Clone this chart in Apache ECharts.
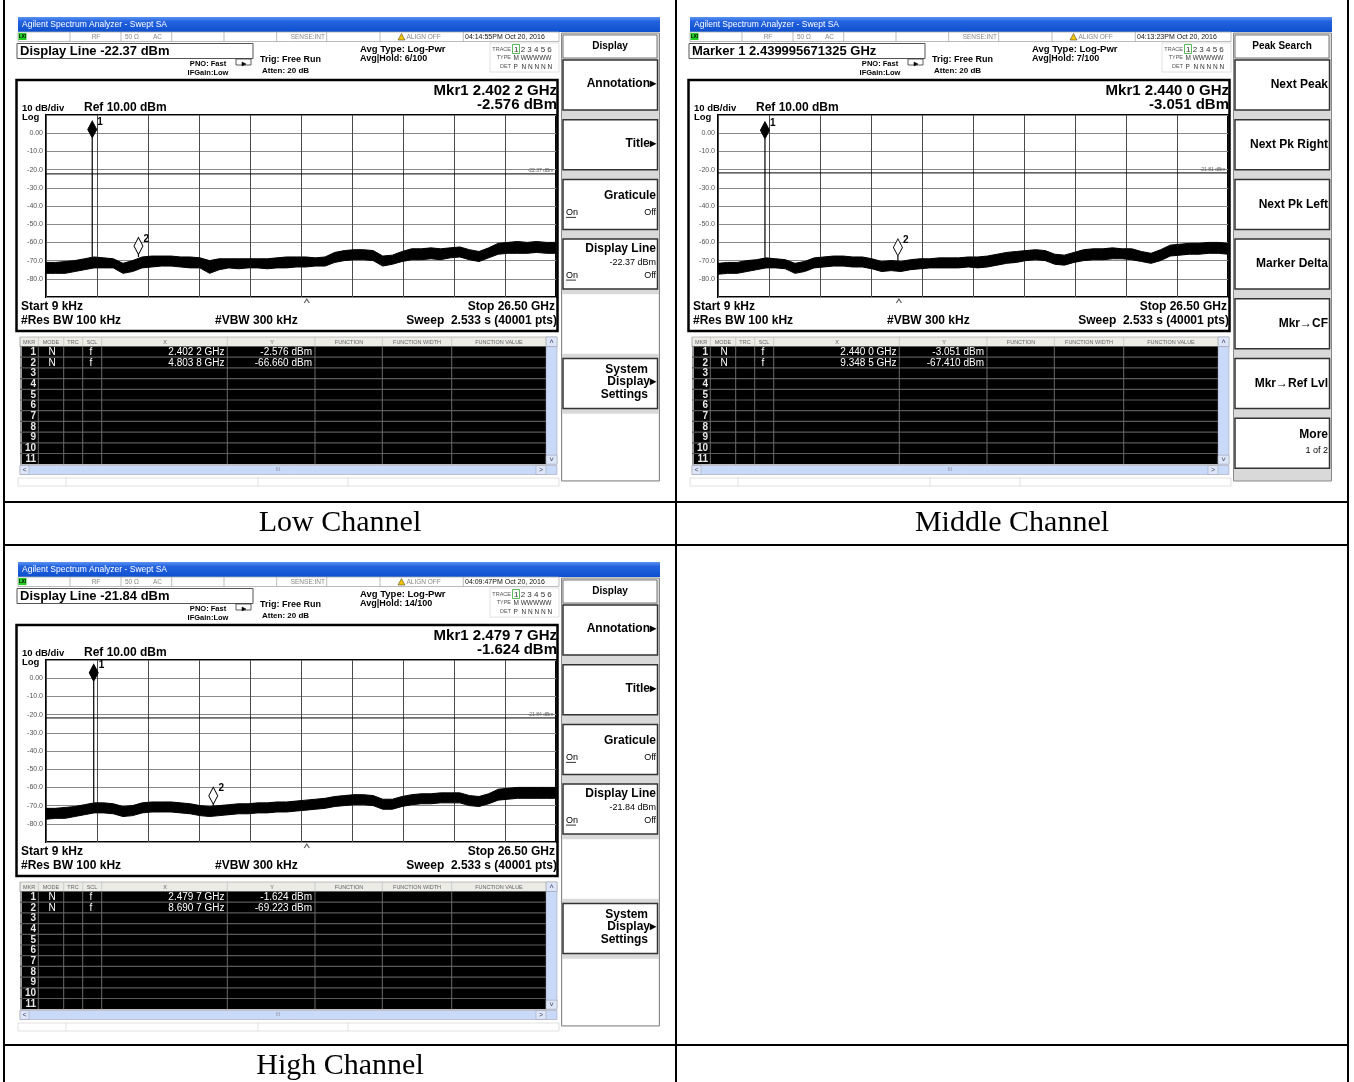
<!DOCTYPE html>
<html><head><meta charset="utf-8">
<style>html,body{margin:0;padding:0;background:#fff;}#c{width:1354px;height:1082px;}</style>
<script src="https://cdn.jsdelivr.net/npm/echarts@6/dist/echarts.min.js"></script>
</head><body><div id="c"></div>
<script>
// ---------------- DATA ----------------
const FREQ_GHZ = [0,0.5,1,1.5,2,2.5,3,3.5,4,4.5,5,5.5,6,6.5,7,7.5,8,8.5,9,9.5,10,10.5,11,11.5,12,12.5,13,13.5,14,14.5,15,15.5,16,16.5,17,17.5,18,18.5,19,19.5,20,20.5,21,21.5,22,22.5,23,23.5,24,24.5,25,25.5,26,26.5];
const Y_TICKS = [10,0,-10,-20,-30,-40,-50,-60,-70,-80,-90];

const LOW_UPPER = [-71,-71,-70.5,-70,-69,-68,-68.5,-69,-71.5,-70,-68,-67.5,-67.5,-67.5,-68,-68,-68.5,-70,-69,-69,-69,-69,-69,-69,-68.5,-68,-68,-68,-68.5,-68,-65.5,-64.5,-64,-64,-64.5,-67.5,-67,-65,-63.5,-63.5,-63,-63.5,-63,-62.5,-64,-65,-63,-60.5,-60,-59.5,-60,-59.5,-60,-60];
const LOW_LOWER = [-77,-77,-77,-76,-75,-74,-74,-74,-77,-76,-74,-73.5,-73,-73,-73.5,-74,-74,-77,-75,-74,-74.5,-74,-74,-74.5,-74,-74,-73.5,-73.5,-73,-73,-71,-70,-69.5,-69.5,-70,-73,-72,-70.5,-69.5,-69.5,-69,-69.5,-68.5,-68,-69.5,-70.5,-68.5,-66.5,-66,-66,-66,-65.5,-66,-66];
const MID_UPPER = [-71.5,-71,-71,-70,-69.5,-68.5,-69,-69.5,-71.5,-70.5,-68.5,-68,-67.5,-67.5,-68,-68,-69,-70.5,-70,-70.5,-69.5,-69,-69,-68.5,-68.5,-68.5,-68,-68,-67.5,-66.5,-65.5,-65,-64.5,-64,-64.5,-66.5,-67,-65.5,-64,-63.5,-63.5,-63,-63.5,-63.5,-65,-66,-64,-61.5,-61,-60.5,-60.5,-60,-60,-60.5];
const MID_LOWER = [-77.5,-77,-77,-76,-75,-74,-74,-74.5,-77,-76,-74,-73.5,-73,-73,-73.5,-73.5,-74.5,-76,-75.5,-76,-75,-74.5,-74,-74,-74,-74,-73.5,-74,-73.5,-72.5,-71.5,-71,-70,-69.5,-70,-72,-72.5,-71,-70,-69.5,-69.5,-69,-69,-69.5,-70.5,-71.5,-70,-67.5,-67,-66.5,-66.5,-66,-66,-66.5];
const HIGH_UPPER = [-71.5,-71.5,-71,-70.5,-69.5,-68.5,-68.5,-69,-70.5,-70,-68.5,-68,-68,-68,-68.5,-69,-70,-70.5,-70,-69.5,-69,-69,-68.5,-68.5,-68,-68,-67.5,-67,-66.5,-66,-65,-64.5,-64,-64,-64.5,-66.5,-66.5,-65,-64,-63.5,-63.5,-63,-63,-63,-64.5,-65,-63.5,-61,-60.5,-60,-60,-60,-60,-60];
const HIGH_LOWER = [-77.5,-77,-77,-76,-75,-74,-74,-74.5,-76,-75.5,-74,-73.5,-73.5,-73.5,-74,-74.5,-75.5,-76,-75.5,-75,-74.5,-74.5,-74,-74,-73.5,-73.5,-73,-72.5,-72,-71.5,-70.5,-70,-69.5,-69.5,-70,-72,-72,-70.5,-69.5,-69,-69,-68.5,-68.5,-68.5,-70,-70.5,-69,-67,-66.5,-66,-66,-66,-66,-66];

// markers: [freq GHz, level dBm]
const LOW_MARKERS = [[2.4022,-2.576],[4.8038,-66.660]];
const MID_MARKERS = [[2.4400,-3.051],[9.3485,-67.410]];
const HIGH_MARKERS = [[2.4797,-1.624],[8.6907,-69.223]];
const LOW_MARKER_TEXT = [['2.402 2 GHz','-2.576 dBm'],['4.803 8 GHz','-66.660 dBm']];
const MID_MARKER_TEXT = [['2.440 0 GHz','-3.051 dBm'],['9.348 5 GHz','-67.410 dBm']];
const HIGH_MARKER_TEXT = [['2.479 7 GHz','-1.624 dBm'],['8.690 7 GHz','-69.223 dBm']];
const DISPLAY_LINES = [-22.37, -21.81, -21.84];
const CARET_GHZ = [13.55, 9.40, 13.55];
const CAPTIONS = ['Low Channel','Middle Channel','High Channel'];

// ---------------- HELPERS ----------------
const FONT = '"Liberation Sans", Arial, Helvetica, sans-serif';
const SERIF = '"Liberation Serif", "Times New Roman", serif';
const els = [];
function T(x,y,text,size,o){o=o||{};els.push({type:'text',x:x,y:y,silent:true,z:100,style:{text:text,font:(o.w||'normal')+' '+size+'px '+(o.f||FONT),fill:o.c||'#000',align:o.a||'left',verticalAlign:'middle'}});}
function R(x,y,w,h,fill,stroke,lw,z){els.push({type:'rect',silent:true,z:z||90,shape:{x:x,y:y,width:w,height:h},style:{fill:fill||'none',stroke:stroke||null,lineWidth:lw||0}});}
function L(x1,y1,x2,y2,stroke,lw){els.push({type:'line',silent:true,z:95,shape:{x1:x1,y1:y1,x2:x2,y2:y2},style:{stroke:stroke,lineWidth:lw||1}});}
function P(points,fill,stroke,lw){els.push({type:'polygon',silent:true,z:96,shape:{points:points},style:{fill:fill,stroke:stroke,lineWidth:lw||0.5}});}

function screen(ox, oy, s){
  // title bar
  els.push({type:'rect',silent:true,z:90,shape:{x:ox,y:oy,width:642,height:15},style:{fill:new echarts.graphic.LinearGradient(0,0,0,1,[{offset:0,color:'#5a93f2'},{offset:0.3,color:'#2563de'},{offset:1,color:'#0c4fcf'}])}});
  T(ox+4, oy+8, 'Agilent Spectrum Analyzer - Swept SA', 8.5, {c:'#fff'});
  // status bar
  R(ox, oy+15, 541, 9.5, '#fff', '#aaa', 0.8);
  [52,103,153.7,206,258.7,308.7,362,445.3].forEach(function(x){L(ox+x,oy+15,ox+x,oy+24.5,'#aaa',0.8);});
  R(ox+0.5, oy+16, 8, 7, '#22cc22');
  T(ox+1, oy+19.7, 'LXI', 4.5, {w:'bold'});
  T(ox+78, oy+20, 'RF', 6.5, {c:'#888',a:'center'});
  T(ox+107, oy+20, '50 \u03A9', 6.5, {c:'#888'});
  T(ox+135, oy+20, 'AC', 6.5, {c:'#888'});
  T(ox+307, oy+20, 'SENSE:INT', 6.5, {c:'#888',a:'right'});
  P([[ox+380,oy+23],[ox+383.5,oy+16.5],[ox+387,oy+23]], '#f2c400', '#333', 0.5);
  T(ox+388.5, oy+20, 'ALIGN OFF', 6.5, {c:'#888'});
  T(ox+447, oy+20, s.time, 7, {c:'#111'});
  // header box
  R(ox-1, oy+26.5, 236, 15, '#fff', '#555', 1);
  T(ox+2, oy+34.5, s.header, 13, {w:'bold'});
  T(ox+190, oy+46.5, 'PNO: Fast', 7.5, {w:'bold',a:'center'});
  T(ox+190, oy+56, 'IFGain:Low', 7.5, {w:'bold',a:'center'});
  R(ox+218, oy+42, 15, 6, '#fff', '#333', 0.8);
  P([[ox+224,oy+45],[ox+228,oy+47],[ox+224,oy+49]], '#000', '#000', 0.5);
  T(ox+242, oy+43, 'Trig: Free Run', 9, {w:'bold'});
  T(ox+244, oy+54, 'Atten: 20 dB', 8, {w:'bold'});
  T(ox+342, oy+32, 'Avg Type: Log-Pwr', 9.5, {w:'bold'});
  T(ox+342, oy+41.5, s.avgHold, 9, {w:'bold'});
  // trace box
  R(ox+472, oy+26, 69, 29, '#fff', '#ccc', 0.6);
  T(ox+493, oy+32.3, 'TRACE', 5.5, {c:'#555',a:'right'});
  T(ox+493, oy+40.7, 'TYPE', 5.5, {c:'#555',a:'right'});
  T(ox+493, oy+49.7, 'DET', 5.5, {c:'#555',a:'right'});
  R(ox+494.5, oy+27.5, 7, 9, 'none', '#3a3', 0.8);
  T(ox+496, oy+32.5, '1 2 3 4 5 6', 8, {c:'#333'});
  T(ox+495.5, oy+41, 'M WWWWW', 6.5, {c:'#333'});
  T(ox+495.5, oy+50, 'P  N N N N N', 6.5, {c:'#333'});
  // annotation box
  R(ox-1.5, oy+63, 541, 251, 'none', '#000', 2.5);
  T(ox+539, oy+74, s.mkr1, 15, {w:'bold',a:'right'});
  T(ox+539, oy+88, s.mkr1v, 15, {w:'bold',a:'right'});
  T(ox+4, oy+91.5, '10 dB/div', 9.5, {w:'bold'});
  T(ox+66, oy+90.5, 'Ref 10.00 dBm', 12, {w:'bold'});
  T(ox+4, oy+100.5, 'Log', 9.5, {w:'bold'});
  T(ox+3, oy+289.5, 'Start 9 kHz', 12, {w:'bold'});
  T(ox+3, oy+303.5, '#Res BW 100 kHz', 12, {w:'bold'});
  T(ox+197, oy+303.5, '#VBW 300 kHz', 12, {w:'bold'});
  T(ox+537, oy+289.5, 'Stop 26.50 GHz', 12, {w:'bold',a:'right'});
  T(ox+539, oy+303.5, 'Sweep  2.533 s (40001 pts)', 12, {w:'bold',a:'right'});
  // soft key panel
  R(ox+543.5, oy+16, 98, 448, '#d9d9d9', '#888', 1);
  R(ox+545, oy+18, 94, 23, '#fff', '#777', 1);
  T(ox+592, oy+29, s.softTitle, 10, {w:'bold',a:'center'});
  for (let i=0;i<7;i++){
    const top = oy+43+i*59.7;
    const ks = s.keys[i]||[];
    if (!ks.length) { R(ox+544.5, top-4.5, 96, (i===6? (oy+463-(top-4.5)) : 59.5), '#fff'); continue; }
    R(ox+545, top, 94.5, 50, '#fff', '#333', 1.5);
    ks.forEach(function(k){
      const right = k[2]==='r';
      const x = right ? ox+(k[5]||638) : ox+548;
      T(x, top+k[1], k[0], k[4]||12, {w:k[3]?'bold':'normal', a:right?'right':'left'});
      if (k[6]) L(ox+548, top+k[1]+5, ox+558, top+k[1]+5, '#000', 0.8);
    });
  }
  // marker table
  const hy = oy+320, ry = oy+329.5, rh = 10.7;
  R(ox+2, hy, 537, 9.5, '#ecebe6', '#999', 0.6);
  const COLS = [2,20.3,45.7,64.7,83.7,209.3,297,364.3,433.7,528];
  [['MKR',11],['MODE',33],['TRC',55],['SCL',74],['X',147],['Y',254],['FUNCTION',331],['FUNCTION WIDTH',399],['FUNCTION VALUE',481]].forEach(function(h){T(ox+h[1], hy+5, h[0], 5.5, {c:'#666',a:'center'});});
  COLS.forEach(function(c){L(ox+c,hy,ox+c,hy+9.5,'#bbb',0.6);});
  R(ox+2, ry, 526, rh*11, '#000');
  for (let r=1;r<11;r++) L(ox+2, ry+r*rh, ox+528, ry+r*rh, '#5a5a5a', 1.2);
  COLS.slice(1,9).forEach(function(c){L(ox+c, ry, ox+c, ry+rh*11, '#6a6a6a', 1);});
  R(ox+2, ry, 2, rh*11, '#999');
  for (let r=0;r<11;r++) T(ox+18, ry+r*rh+5.6, String(r+1), 10, {w:'bold',c:'#e8e8e8',a:'right'});
  s.mtext.forEach(function(m,r){
    T(ox+34, ry+r*rh+5.6, 'N', 10, {c:'#fff',a:'center'});
    T(ox+73, ry+r*rh+5.6, 'f', 10, {c:'#fff',a:'center'});
    T(ox+206.5, ry+r*rh+5.6, m[0], 10, {c:'#fff',a:'right'});
    T(ox+294, ry+r*rh+5.6, m[1], 10, {c:'#fff',a:'right'});
  });
  // scrollbars
  R(ox+528, hy, 11, 9.5, '#dde6f8', '#99a', 0.5);
  T(ox+533.5, hy+5, '\u02C4', 8, {c:'#446',a:'center'});
  R(ox+528, ry, 11, rh*11, '#c9daf9', '#99a', 0.5);
  R(ox+528, ry+rh*11-9, 11, 9, '#dde6f8', '#99a', 0.5);
  T(ox+533.5, ry+rh*11-4.5, '\u02C5', 8, {c:'#446',a:'center'});
  R(ox+2, oy+448.5, 537, 9, '#c9daf9', '#99a', 0.5);
  R(ox+2, oy+448.5, 9, 9, '#dde6f8', '#99a', 0.5);
  T(ox+6.5, oy+453, '<', 7, {c:'#446',a:'center'});
  R(ox+518, oy+448.5, 10, 9, '#dde6f8', '#99a', 0.5);
  T(ox+523, oy+453, '>', 7, {c:'#446',a:'center'});
  T(ox+260, oy+453, 'III', 5, {c:'#889',a:'center'});
  // bottom status strip
  R(ox, oy+461, 541, 8, '#fff', '#ccc', 0.6);
  [48,240,330].forEach(function(x){L(ox+x,oy+461,ox+x,oy+469,'#ccc',0.6);});
}

const LOW_KEYS = [
  [['Annotation\u25B8',24,'r',1]],
  [['Title\u25B8',24,'r',1]],
  [['Graticule',16,'r',1],['On',33,'l',0,9,0,1],['Off',33,'r',0,9]],
  [['Display Line',10,'r',1],['-22.37 dBm',23,'r',0,9],['On',36,'l',0,9,0,1],['Off',36,'r',0,9]],
  [],
  [['System',11,'r',1,12,630],['Display\u25B8',23,'r',1,12,638],['Settings',36,'r',1,12,630]],
  []
];
const HIGH_KEYS = [
  [['Annotation\u25B8',24,'r',1]],
  [['Title\u25B8',24,'r',1]],
  [['Graticule',16,'r',1],['On',33,'l',0,9,0,1],['Off',33,'r',0,9]],
  [['Display Line',10,'r',1],['-21.84 dBm',23,'r',0,9],['On',36,'l',0,9,0,1],['Off',36,'r',0,9]],
  [],
  [['System',11,'r',1,12,630],['Display\u25B8',23,'r',1,12,638],['Settings',36,'r',1,12,630]],
  []
];
const MID_KEYS = [
  [['Next Peak',25,'r',1]],
  [['Next Pk Right',25,'r',1]],
  [['Next Pk Left',25,'r',1]],
  [['Marker Delta',25,'r',1]],
  [['Mkr\u2192CF',25,'r',1]],
  [['Mkr\u2192Ref Lvl',25,'r',1]],
  [['More',16,'r',1],['1 of 2',32,'r',0,9]]
];

const SCREENS = [
  {ox:18, oy:17, header:'Display Line -22.37 dBm', avgHold:'Avg|Hold: 6/100', time:'04:14:55PM Oct 20, 2016', mkr1:'Mkr1 2.402 2 GHz', mkr1v:'-2.576 dBm', softTitle:'Display', keys:LOW_KEYS, mtext:LOW_MARKER_TEXT, up:LOW_UPPER, lo:LOW_LOWER, mk:LOW_MARKERS},
  {ox:690, oy:17, header:'Marker 1 2.439995671325 GHz', avgHold:'Avg|Hold: 7/100', time:'04:13:23PM Oct 20, 2016', mkr1:'Mkr1 2.440 0 GHz', mkr1v:'-3.051 dBm', softTitle:'Peak Search', keys:MID_KEYS, mtext:MID_MARKER_TEXT, up:MID_UPPER, lo:MID_LOWER, mk:MID_MARKERS},
  {ox:18, oy:562, header:'Display Line -21.84 dBm', avgHold:'Avg|Hold: 14/100', time:'04:09:47PM Oct 20, 2016', mkr1:'Mkr1 2.479 7 GHz', mkr1v:'-1.624 dBm', softTitle:'Display', keys:HIGH_KEYS, mtext:HIGH_MARKER_TEXT, up:HIGH_UPPER, lo:HIGH_LOWER, mk:HIGH_MARKERS}
];

// table frame + captions
L(4,0,4,1082,'#000',2); L(676,0,676,1082,'#000',2); L(1348,0,1348,1082,'#000',2);
L(3,502,1349,502,'#000',2); L(3,545,1349,545,'#000',2); L(3,1045,1349,1045,'#000',2);
T(340,523.5,CAPTIONS[0],30,{f:SERIF,a:'center'});
T(1012,523.5,CAPTIONS[1],30,{f:SERIF,a:'center'});
T(340,1066,CAPTIONS[2],30,{f:SERIF,a:'center'});

SCREENS.forEach(function(s){screen(s.ox, s.oy, s);});

// ---------------- CHART ----------------
const grids=[], xAxes=[], yAxes=[], series=[];
SCREENS.forEach(function(s,k){
  grids.push({left:s.ox+28, top:s.oy+98, width:510, height:182, show:true, borderColor:'#000', borderWidth:2, backgroundColor:'transparent'});
  xAxes.push({gridIndex:k, type:'value', min:0, max:26.5, interval:2.65, axisLine:{show:false}, axisTick:{show:false}, axisLabel:{show:false}, splitLine:{show:true, lineStyle:{color:'#4a4a4a', width:1}}});
  yAxes.push({gridIndex:k, type:'value', min:Y_TICKS[Y_TICKS.length-1], max:Y_TICKS[0], interval:10, axisLine:{show:false}, axisTick:{show:false},
    axisLabel:{margin:3, fontSize:7, color:'#555', fontFamily:FONT, formatter:function(v){ if(v>=10||v<=-90) return ''; return v===0?'0.00':v.toFixed(1);}},
    splitLine:{show:true, lineStyle:{color:'#8a8a8a', width:1}}});
  const up=s.up, lo=s.lo;
  series.push({type:'custom', xAxisIndex:k, yAxisIndex:k, z:3, silent:true, data:[[FREQ_GHZ[0], up[0]]],
    renderItem:function(params, api){
      const pts=[];
      for (let i=0;i<FREQ_GHZ.length;i++) pts.push(api.coord([FREQ_GHZ[i], up[i]]));
      for (let i=FREQ_GHZ.length-1;i>=0;i--) pts.push(api.coord([FREQ_GHZ[i], lo[i]]));
      return {type:'polygon', shape:{points:pts}, style:{fill:'#000', stroke:'#000', lineWidth:1}};
    }});
  // display line
  const d = DISPLAY_LINES[k];
  series.push({type:'line', xAxisIndex:k, yAxisIndex:k, z:2, silent:true, symbol:'none', data:[[0,d],[26.5,d]], lineStyle:{color:'#000', width:1}});
  series.push({type:'scatter', xAxisIndex:k, yAxisIndex:k, z:4, silent:true, data:[[26.5,d]], symbolSize:1, itemStyle:{color:'transparent'},
    label:{show:true, formatter:d.toFixed(2)+' dBm', position:'left', distance:2, offset:[0,-3], fontSize:5, color:'#333', fontFamily:FONT}});
  // marker spikes
  s.mk.forEach(function(m){
    let best=0; for (let i=0;i<FREQ_GHZ.length;i++) if (Math.abs(FREQ_GHZ[i]-m[0])<Math.abs(FREQ_GHZ[best]-m[0])) best=i;
    series.push({type:'line', xAxisIndex:k, yAxisIndex:k, z:3, silent:true, symbol:'none', data:[[m[0], up[best]],[m[0], m[1]]], lineStyle:{color:'#000', width:1.2}});
  });
  // marker diamonds
  s.mk.forEach(function(m,j){
    series.push({type:'scatter', xAxisIndex:k, yAxisIndex:k, z:6, silent:true, data:[m], symbol:'diamond', symbolSize:[9,17], symbolOffset:[0,-8.5],
      itemStyle:{color: j===0?'#000':'#fff', borderColor:'#000', borderWidth:1, opacity:1},
      label:{show:true, formatter:String(j+1), position:[10,-3], fontSize:10, fontWeight:'bold', color:'#000', fontFamily:FONT}});
  });
  // caret under x axis
  series.push({type:'scatter', xAxisIndex:k, yAxisIndex:k, z:6, silent:true, data:[[CARET_GHZ[k], -90]], symbol:'path://M0,6 L4,0 L8,6', symbolSize:[5,4], symbolOffset:[0,4],
    itemStyle:{color:'transparent', borderColor:'#333', borderWidth:1}});
});

const chart = echarts.init(document.getElementById('c'), null, {renderer:'canvas', width:1354, height:1082});
chart.setOption({animation:false, backgroundColor:'#fff', grid:grids, xAxis:xAxes, yAxis:yAxes, series:series, graphic:{elements:els}});
</script></body></html>
